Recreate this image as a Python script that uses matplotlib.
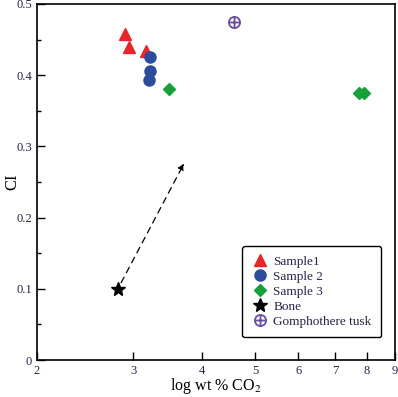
import numpy as np
import matplotlib
matplotlib.use('Agg')
import matplotlib.pyplot as plt
from matplotlib.path import Path
from matplotlib.ticker import FixedLocator, NullFormatter, MultipleLocator

plt.rcParams['font.family'] = ['Liberation Serif', 'DejaVu Serif']
plt.rcParams['mathtext.fontset'] = 'stix'

# 数据
s1_x = [2.89, 2.94, 3.16]
s1_y = [0.458, 0.440, 0.434]
s2_x = [3.21, 3.21, 3.20]
s2_y = [0.426, 0.406, 0.393]
s3_x = [3.49, 7.75, 7.90]
s3_y = [0.380, 0.375, 0.375]
bone_x = [2.81]
bone_y = [0.100]
tusk_x = [4.58]
tusk_y = [0.475]
arrow_end = (3.71, 0.276)

x_ticks = [2, 3, 4, 5, 6, 7, 8, 9]
y_ticks = [0, 0.1, 0.2, 0.3, 0.4, 0.5]
y_tick_labels = ['0', '0.1', '0.2', '0.3', '0.4', '0.5']

# 带十字的圆形标记
circ = Path.unit_circle()
hline = Path([[-1, 0], [1, 0]], [Path.MOVETO, Path.LINETO])
vline = Path([[0, -1], [0, 1]], [Path.MOVETO, Path.LINETO])
oplus = Path.make_compound_path(circ, hline, vline)

fig = plt.figure(figsize=(3.98, 3.97), dpi=100)
ax = fig.add_axes([0.093, 0.093, 0.899, 0.897])

ax.set_xscale('log')
ax.set_xlim(2, 9)
ax.set_ylim(0, 0.5)

ax.annotate('', xy=arrow_end, xytext=(bone_x[0], bone_y[0]),
            arrowprops=dict(arrowstyle='-|>', linestyle=(0, (5, 4)), color='black',
                            lw=0.9, shrinkA=5, shrinkB=0, mutation_scale=9))

ax.plot(s1_x, s1_y, '^', color='#e8262a', ms=8, ls='none', label='Sample1')
ax.plot(s2_x, s2_y, 'o', color='#2c4c9c', ms=8, ls='none', label='Sample 2')
ax.plot(s3_x, s3_y, 'D', color='#15a03c', ms=6.5, ls='none', label='Sample 3')
ax.plot(bone_x, bone_y, '*', color='black', ms=10, ls='none', label='Bone')
ax.plot(tusk_x, tusk_y, marker=oplus, color='#6a4ca0', mfc='none', mew=1.3, ms=8,
        ls='none', label='Gomphothere tusk')

tick_col = '#24244a'
ax.xaxis.set_major_locator(FixedLocator(x_ticks))
ax.xaxis.set_minor_locator(FixedLocator([]))
ax.xaxis.set_minor_formatter(NullFormatter())
ax.set_xticklabels([str(t) for t in x_ticks])
ax.set_yticks(y_ticks)
ax.set_yticklabels(y_tick_labels)
ax.yaxis.set_minor_locator(MultipleLocator(0.05))
ax.tick_params(which='both', direction='in', top=False, right=False,
               labelsize=9, labelcolor=tick_col, width=1)
ax.tick_params(which='major', length=6)
ax.tick_params(which='minor', length=3)
for s in ax.spines.values():
    s.set_linewidth(1.2)

ax.set_xlabel('log wt % CO$_2$', fontsize=11.5)
ax.set_ylabel('CI', fontsize=12)
ax.xaxis.set_label_coords(0.5, -0.045, transform=ax.transAxes)
ax.yaxis.set_label_coords(-0.07, 0.5, transform=ax.transAxes)
ax.xaxis.label.set_verticalalignment('top')
ax.yaxis.label.set_verticalalignment('center')

leg = ax.legend(loc='lower left', bbox_to_anchor=(0.555, 0.045), fontsize=9.5,
                frameon=True, fancybox=True, edgecolor='black', framealpha=1,
                handletextpad=0.4, labelspacing=0.2, borderpad=0.75,
                handlelength=1.2, labelcolor=tick_col)
leg.get_frame().set_linewidth(1.0)

plt.savefig('out.png', dpi=100)
